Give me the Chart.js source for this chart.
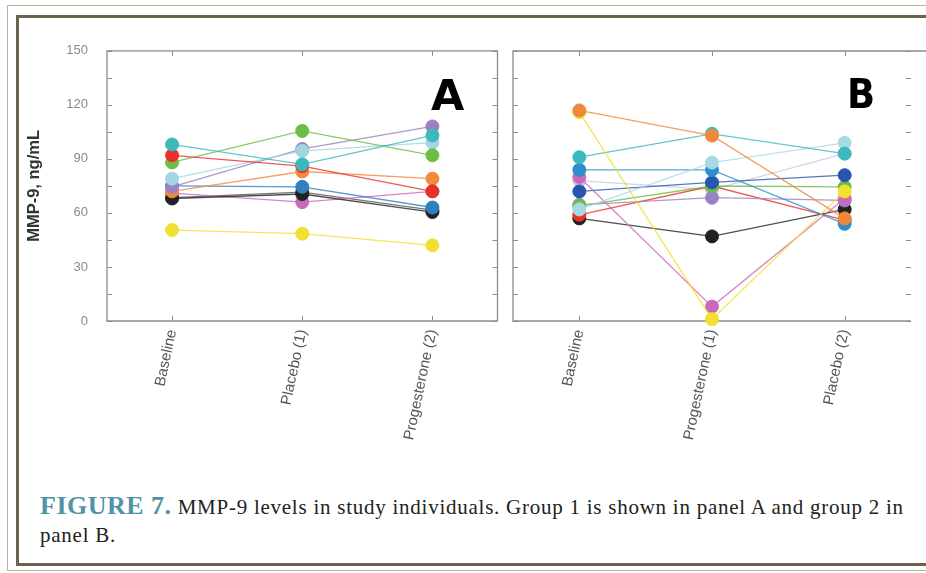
<!DOCTYPE html>
<html>
<head>
<meta charset="utf-8">
<script src="https://cdn.jsdelivr.net/npm/chart.js@4"></script>
<style>
  html, body { margin: 0; padding: 0; background: #fff; width: 926px; height: 573px; overflow: hidden; }
  .outer { position: absolute; left: 7px; top: 5px; width: 940px; height: 564px; border: 1px solid #b8b3a5; }
  .inner { position: absolute; left: 16px; top: 15px; width: 940px; height: 545px; border: 3px solid #69634f; }
  .wrap { position: absolute; }
  .letter { position: absolute; font-weight: bold; color: #000; line-height: 1; }
  .caption { position: absolute; left: 40px; top: 492px; font-family: "Liberation Serif", serif; font-size: 21px; letter-spacing: 0.75px; color: #222; line-height: 28px; white-space: nowrap; }
  .caption b { font-weight: bold; color: #4f93a6; font-size: 26px; letter-spacing: 0.5px; }
</style>
</head>
<body>
<div class="outer"></div>
<div class="inner"></div>
<div class="wrap" style="left:20px;top:24px;width:485px;height:456px"><canvas id="chartA"></canvas></div>
<div class="wrap" style="left:505px;top:40px;width:421px;height:440px"><canvas id="chartB"></canvas></div>
<div class="letter" style="left:431px;top:74px;font-family:'DejaVu Sans';font-size:43px">A</div>
<div class="letter" style="left:847px;top:74px;font-family:'DejaVu Sans Condensed','DejaVu Sans';font-size:41px">B</div>
<div class="caption"><b>FIGURE 7.</b> MMP-9 levels in study individuals. Group 1 is shown in panel A and group 2 in<br>panel B.</div>
<script>
// ── data ──
const labelsA = ['Baseline', 'Placebo (1)', 'Progesterone (2)'];
const labelsB = ['Baseline', 'Progesterone (1)', 'Placebo (2)'];
const yTicks = [0, 30, 60, 90, 120, 150];

// group 1 (panel A), one row per individual
const colorsA = ['#3cb9bd','#e8312b','#6cbd45','#a2d5e0','#9a80c4','#f18a3b','#2f7fc1','#222222','#cc67bb','#f0e030','#555555'];
const valuesA = [
  [98, 87, 103],
  [92, 86, 72],
  [88, 105.5, 92],
  [79, 94.5, 99],
  [74.5, 95.5, 108],
  [72, 83, 79],
  [75, 74.5, 63],
  [68, 70.5, 60.5],
  [71, 66, 72],
  [50.5, 48.5, 42],
  [68.5, 71.5, 61.5]
];

// group 2 (panel B)
const colorsB = ['#f0883a','#f0e030','#3cb9bd','#a8d9e3','#2f8dcc','#cc67bb','#2756b0','#6cbd45','#9a80c4','#e8312b','#222222','#c9c9dc'];
const valuesB = [
  [117, 103, 57],
  [116, 1, 72],
  [91, 104, 93],
  [62, 88, 99],
  [84, 84, 54],
  [80, 8, 68],
  [72, 77, 81],
  [64, 75, 74.5],
  [64.5, 68.5, 67],
  [59, 75, 56],
  [57, 47, 62],
  [78, 73, 93]
];

// inner tick marks + frame
const frameTicks = {
  id: 'frameTicks',
  beforeDatasetsDraw(chart, args, opts) {
    const { ctx, chartArea: a, scales: { x, y } } = chart;
    ctx.save();
    ctx.strokeStyle = '#8c8c8c';
    ctx.lineWidth = 1.3;
    ctx.beginPath();
    ctx.moveTo(a.right, a.bottom); ctx.lineTo(a.left, a.bottom);
    ctx.lineTo(a.left, a.top); ctx.lineTo(a.right + (opts.right ? 0 : 15), a.top);
    if (opts.right) ctx.lineTo(a.right, a.bottom);
    ctx.stroke();
    ctx.lineWidth = 1;
    ctx.beginPath();
    y.ticks.forEach(t => {
      const py = Math.round(y.getPixelForValue(t.value)) + 0.5;
      ctx.moveTo(a.left, py); ctx.lineTo(a.left + 5, py);
      ctx.moveTo(a.right - 5, py); ctx.lineTo(a.right, py);
    });
    x.ticks.forEach((t, i) => {
      const px = Math.round(x.getPixelForTick(i)) + 0.5;
      ctx.moveTo(px, a.top); ctx.lineTo(px, a.top + 5);
      ctx.moveTo(px, a.bottom); ctx.lineTo(px, a.bottom - 5);
    });
    ctx.stroke();
    ctx.restore();
  }
};

function makeSets(values, colors) {
  return values.map((v, i) => ({
    data: v,
    borderColor: colors[i] + 'cc', borderWidth: 1.3,
    pointRadius: 6.5, pointBackgroundColor: colors[i], pointBorderColor: colors[i],
    pointBorderWidth: 1, tension: 0, clip: false
  }));
}

function makeChart(id, labels, values, colors, withLabels, rightBorder, padRight) {
  return new Chart(document.getElementById(id).getContext('2d'), {
    type: 'line',
    data: { labels: labels, datasets: makeSets(values, colors) },
    options: {
      responsive: true, maintainAspectRatio: false, animation: false,
      layout: { padding: { top: 11, right: padRight, bottom: 0, left: 0 } },
      plugins: { legend: { display: false }, tooltip: { enabled: false }, frameTicks: { right: rightBorder } },
      scales: {
        x: {
          offset: true,
          grid: { display: false, drawTicks: false }, border: { display: false },
          ticks: { font: { family: 'Liberation Sans', size: 15 }, color: '#555', maxRotation: 78, minRotation: 78, padding: 7 },
          afterFit: s => { s.height = 159; }
        },
        y: {
          min: 0, max: 150,
          grid: { display: false, drawTicks: false }, border: { display: false },
          afterBuildTicks: s => { s.ticks = []; for (let v = 0; v <= 150; v += 15) s.ticks.push({ value: v }); },
          ticks: {
            display: withLabels, padding: 19, color: '#8a8a8a',
            font: { family: 'Liberation Sans', size: 13 },
            callback: v => yTicks.includes(v) ? v : ''
          },
          title: {
            display: withLabels, text: 'MMP-9, ng/mL', color: '#333',
            font: { family: 'Liberation Sans', size: 16.5, weight: 'bold' }, padding: { top: 5, bottom: 0 }
          },
          afterFit: s => { s.width = withLabels ? 87 : 8; }
        }
      }
    },
    plugins: [frameTicks]
  });
}

makeChart('chartA', labelsA, valuesA, colorsA, true, true, 7);
makeChart('chartB', labelsB, valuesB, colorsB, false, false, 15);
</script>
</body>
</html>
